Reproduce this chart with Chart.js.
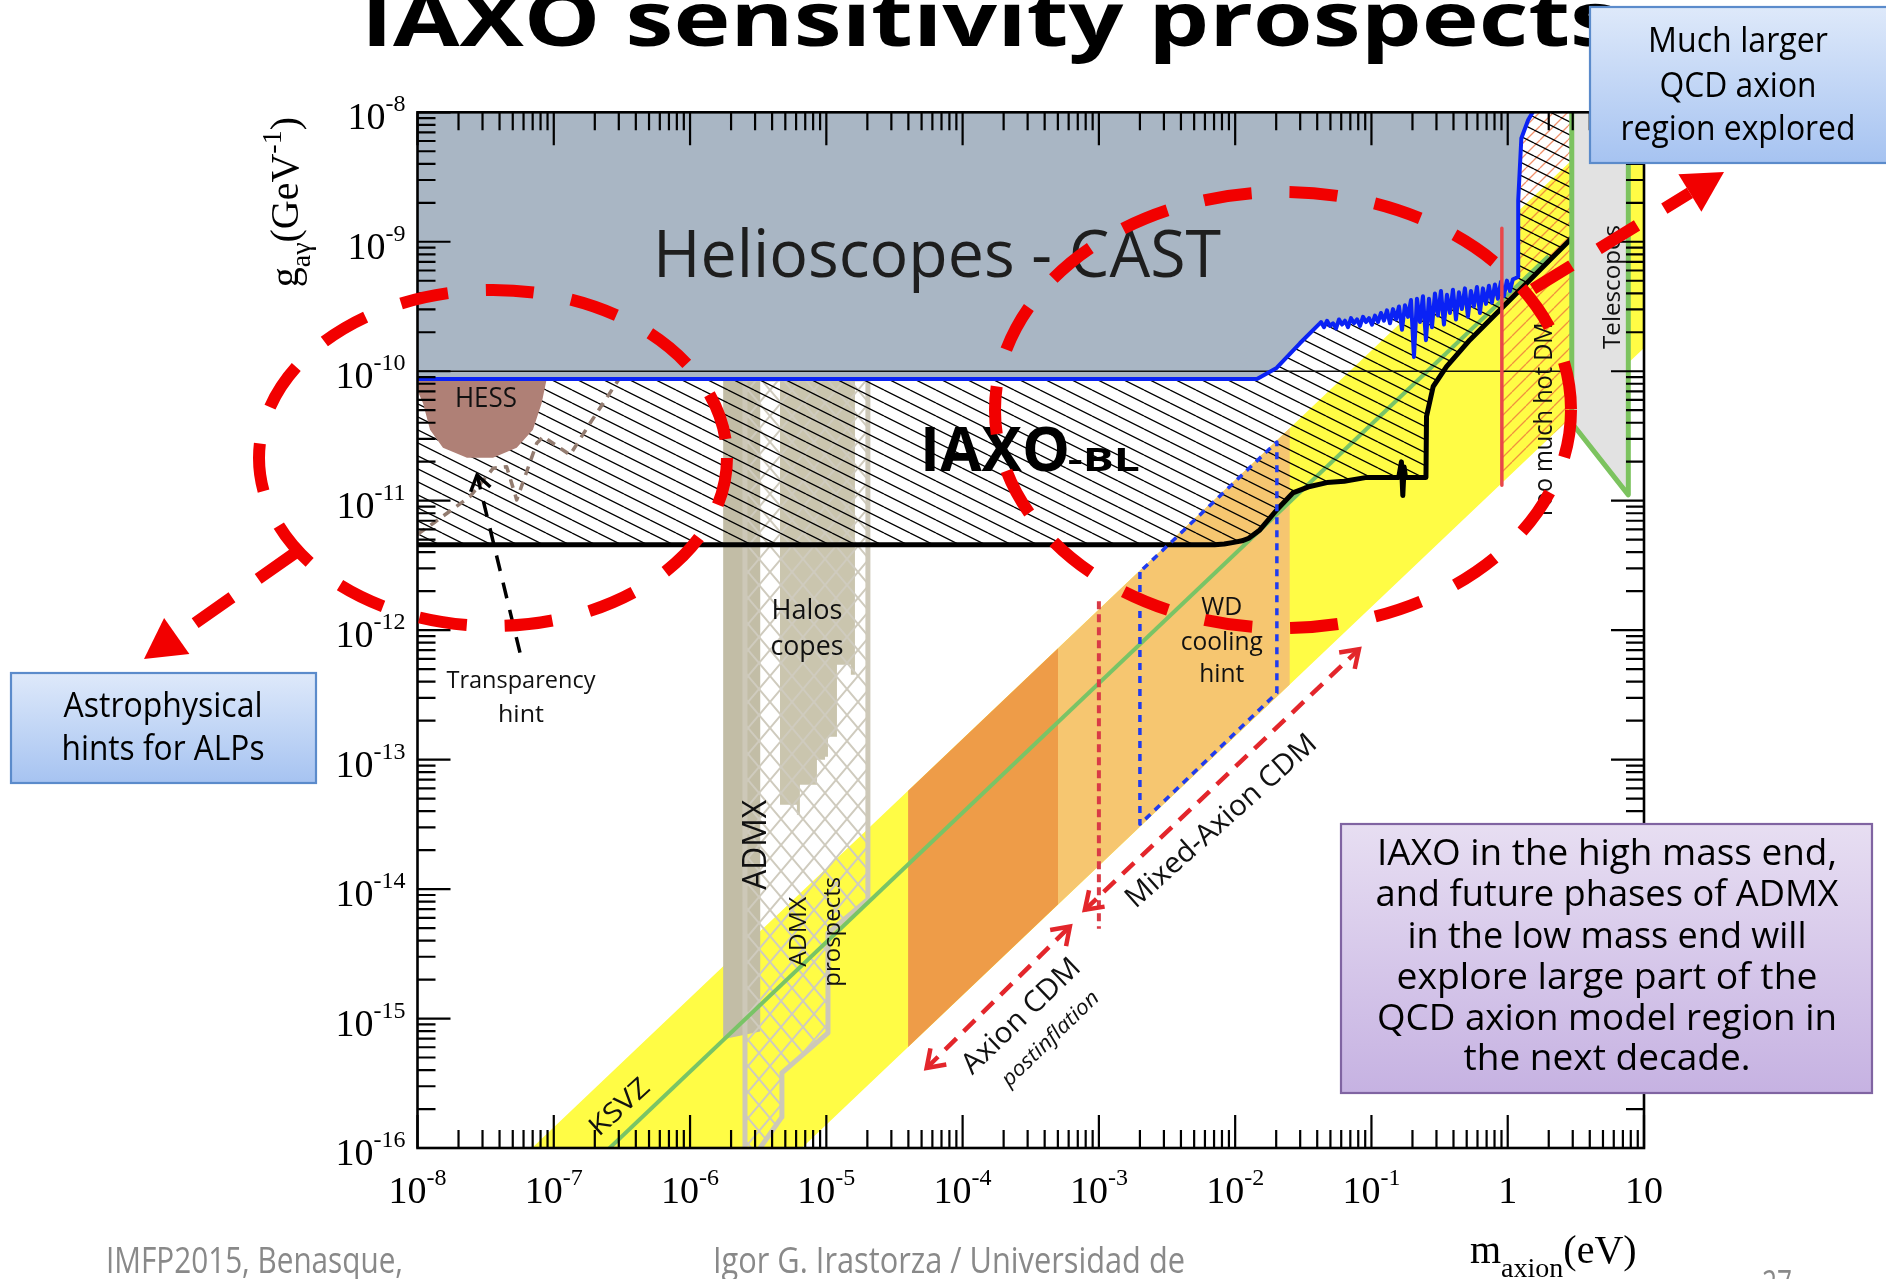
<!DOCTYPE html>
<html>
<head>
<meta charset="utf-8">
<title>IAXO sensitivity prospects</title>
<script src="https://cdn.jsdelivr.net/npm/chart.js@4.4.1/dist/chart.umd.min.js"></script>
<style>
html, body { margin: 0; padding: 0; background: #fff; overflow: hidden; }
canvas { display: block; }
</style>
</head>
<body>
<canvas id="c" width="1886" height="1279"></canvas>
<script>
// All curves and regions below are [log10(m_axion / eV), log10(g_ag / GeV^-1)] pairs.

// Helioscope (CAST) exclusion boundary, left to right, ending at the top of the frame
const castLimit = [
  [-8.1, -10.06], [-1.84, -10.06], [-1.696, -9.975], [-1.525, -9.784], [-1.379, -9.63],
  [-1.370, -9.62], [-1.348, -9.66], [-1.326, -9.61], [-1.304, -9.65], [-1.282, -9.63],
  [-1.260, -9.67], [-1.238, -9.60], [-1.216, -9.64], [-1.194, -9.61], [-1.172, -9.66],
  [-1.150, -9.59], [-1.128, -9.63], [-1.106, -9.60], [-1.084, -9.65], [-1.062, -9.58],
  [-1.040, -9.62], [-1.018, -9.59], [-0.996, -9.64], [-0.974, -9.57], [-0.952, -9.62],
  [-0.930, -9.55], [-0.908, -9.61], [-0.886, -9.53], [-0.864, -9.63], [-0.842, -9.52],
  [-0.820, -9.60], [-0.798, -9.50], [-0.776, -9.68], [-0.754, -9.49],
  [-0.732, -9.58], [-0.710, -9.45], [-0.688, -9.89], [-0.666, -9.44], [-0.644, -9.62],
  [-0.622, -9.42], [-0.600, -9.76], [-0.578, -9.44], [-0.556, -9.66],
  [-0.534, -9.40], [-0.512, -9.57], [-0.490, -9.38], [-0.468, -9.64], [-0.446, -9.41],
  [-0.424, -9.55], [-0.402, -9.37], [-0.380, -9.60], [-0.358, -9.39], [-0.336, -9.52],
  [-0.314, -9.36], [-0.292, -9.58], [-0.270, -9.38], [-0.248, -9.50], [-0.226, -9.35],
  [-0.204, -9.55], [-0.182, -9.36], [-0.160, -9.48], [-0.138, -9.34],
  [-0.116, -9.47], [-0.094, -9.33], [-0.072, -9.44], [-0.050, -9.31], [-0.028, -9.42],
  [-0.006, -9.30], [0.016, -9.38], [0.038, -9.29], [0.060, -9.28], [0.077, -9.269],
  [0.077, -8.68], [0.100, -8.2], [0.15, -8.06], [0.21, -7.95]
];

// IAXO baseline sensitivity curve
const iaxoBL = [
  [-8.1, -11.34], [-2.15, -11.34], [-2.08, -11.335], [-2.0, -11.32], [-1.95, -11.31],
  [-1.90, -11.29], [-1.819, -11.226], [-1.694, -11.07], [-1.577, -10.94], [-1.452, -10.89],
  [-1.327, -10.86], [-1.20, -10.85], [-1.034, -10.82], [-0.80, -10.82], [-0.78, -10.70],
  [-0.77, -10.96], [-0.76, -10.74], [-0.75, -10.82], [-0.600, -10.82], [-0.596, -10.35],
  [-0.547, -10.118], [-0.449, -9.964], [-0.278, -9.758], [0.089, -9.372], [0.456, -8.986],
  [0.47, -8.97]
];

// QCD axion model band (upper edge, then lower edge)
const axionBand = [[-8, -16.84], [1, -7.84], [1, -9.82], [-8, -18.82]];
// KSVZ model line
const ksvzLine = [[-6.7, -16.11], [0.3, -9.11]];
// Axion CDM (post-inflation) mass windows
const cdmCore = [[-4.40, -13.24], [-3.30, -12.14], [-3.30, -14.12], [-4.40, -15.22]];
const cdmMixed = [[-3.30, -12.14], [-1.60, -10.44], [-1.60, -12.42], [-3.30, -14.12]];
// White-dwarf cooling hint
const wdHint = [[-2.699, -11.55], [-2.699, -13.50], [-1.694, -12.485], [-1.694, -10.546], [-2.699, -11.55]];
// Red dotted marker at 1 meV
const meVMarker = [[-3.0, -11.776], [-3.0, -14.306]];
// Hot dark matter bound
const hotDmLine = [[-0.043, -8.895], [-0.043, -10.88]];
const hotDmArea = [[-0.043, -7.9], [0.47, -7.9], [0.47, -10.35], [-0.043, -10.86]];
// Telescope searches
const telescopeArea = [[0.47, -7.9], [0.885, -7.9], [0.885, -10.955], [0.47, -10.40]];
const telescopeEdge = [[0.47, -7.9], [0.47, -10.40], [0.885, -10.955], [0.885, -7.9]];
// Haloscopes: ADMX exclusion, other haloscopes, ADMX prospects
const admxExcl = [[-5.757, -10.06], [-5.485, -10.06], [-5.485, -15.10], [-5.757, -15.16]];
const halosExcl = [
  [-5.340, -10.06], [-4.790, -10.06], [-4.790, -12.345], [-4.820, -12.345], [-4.820, -12.268],
  [-4.922, -12.268], [-4.922, -12.824], [-4.988, -12.824], [-4.988, -12.978], [-5.010, -12.978],
  [-5.010, -13.001], [-5.069, -13.001], [-5.069, -13.194], [-5.194, -13.194], [-5.194, -13.426],
  [-5.216, -13.426], [-5.216, -13.349], [-5.340, -13.349]
];
const admxProspects = [
  [-5.597, -10.06], [-4.695, -10.06], [-4.695, -14.08], [-4.988, -14.34], [-4.988, -15.11],
  [-5.326, -15.42], [-5.326, -15.76], [-5.50, -16.02], [-5.597, -16.02]
];
// HESS excluded region
const hessExcl = [
  [-8.0, -10.06], [-7.052, -10.06], [-7.089, -10.247], [-7.153, -10.453], [-7.272, -10.592],
  [-7.446, -10.669], [-7.637, -10.669], [-7.813, -10.592], [-7.908, -10.453], [-7.960, -10.245],
  [-8.0, -10.15]
];
// Transparency hint contour
const transparencyHint = [
  [-8.0, -11.26], [-7.884, -11.174], [-7.615, -10.968], [-7.444, -10.749], [-7.346, -10.737],
  [-7.272, -10.994], [-7.125, -10.556], [-7.077, -10.505], [-6.881, -10.646], [-6.734, -10.402],
  [-6.502, -10.029]
];
// Horizontal guide at g = 1e-10
const guide1e10 = [[-8.0, -10.0], [0.47, -10.0]];

// Axis decades and tick label text
const xDecades = [-8, -7, -6, -5, -4, -3, -2, -1, 0, 1];
const xTickBase = ['10', '10', '10', '10', '10', '10', '10', '10', '1', '10'];
const xTickExp = ['-8', '-7', '-6', '-5', '-4', '-3', '-2', '-1', '', ''];
const yDecades = [-16, -15, -14, -13, -12, -11, -10, -9, -8];
const yTickExp = ['-16', '-15', '-14', '-13', '-12', '-11', '-10', '-9', '-8'];

// ---------------------------------------------------------------------------
const pts = arr => arr.map(([a, b]) => ({ x: Math.pow(10, a), y: Math.pow(10, b) }));
const closed = arr => arr.concat([arr[0]]);

const canvas = document.getElementById('c');
const ctx0 = canvas.getContext('2d');

function stripes(w, h, color, lw, down) {
  const c = document.createElement('canvas');
  c.width = w; c.height = h;
  const g = c.getContext('2d');
  g.strokeStyle = color; g.lineWidth = lw;
  g.beginPath();
  for (const k of [-1, 0, 1]) {
    if (down) { g.moveTo(0, k * h); g.lineTo(w, (k + 1) * h); }
    else { g.moveTo(0, (k + 1) * h); g.lineTo(w, k * h); }
  }
  g.stroke();
  return ctx0.createPattern(c, 'repeat');
}
function crossHatch(w, h, color, lw) {
  const c = document.createElement('canvas');
  c.width = w; c.height = h;
  const g = c.getContext('2d');
  g.strokeStyle = color; g.lineWidth = lw;
  g.beginPath();
  g.moveTo(0, 0); g.lineTo(w, h);
  g.moveTo(w, 0); g.lineTo(0, h);
  g.stroke();
  return ctx0.createPattern(c, 'repeat');
}

const iaxoHatch = stripes(26, 13, '#000', 1.3, true);
const hotDmHatch = stripes(14, 14, 'rgba(236,110,60,0.75)', 1.3, false);
const prospectHatch = crossHatch(22, 26, '#CFCBBE', 2);

function region(data, color, order) {
  return { data: pts(data), fill: 'shape', backgroundColor: color, borderColor: 'rgba(0,0,0,0)',
           borderWidth: 0, pointRadius: 0, order, clip: 0, tension: 0 };
}
function curve(data, color, width, order, dash) {
  return { data: pts(data), fill: false, borderColor: color, borderWidth: width, borderDash: dash || [],
           pointRadius: 0, order, clip: 0, tension: 0, borderJoinStyle: 'round', borderCapStyle: 'butt' };
}

const iaxoHatchArea = iaxoBL.concat([[0.47, -7.9]], castLimit.slice().reverse());
const castArea = castLimit.concat([[-8.1, -7.9]]);

const datasets = [
  region(axionBand, '#FFFC45', 100),
  region(cdmCore, '#EE9C48', 99),
  region(cdmMixed, '#F6C670', 98),
  region(hotDmArea, hotDmHatch, 97),
  region(telescopeArea, '#E2E2E2', 96),
  region(admxExcl, '#C2BDA6', 95),
  region(halosExcl, '#CAC5AE', 94),
  region(admxProspects, prospectHatch, 93),
  curve(closed(admxProspects), '#CDC8B8', 5, 92),
  curve(ksvzLine, '#79C466', 4, 91),
  region(iaxoHatchArea, iaxoHatch, 90),
  region(hessExcl, '#AF8076', 89),
  curve(transparencyHint, '#937C70', 3.5, 88, [9, 7]),
  region(castArea, '#A9B6C4', 87),
  curve(guide1e10, '#111', 1.5, 86),
  curve(castLimit, '#0A22F5', 4, 85),
  curve(iaxoBL, '#000', 5, 84),
  curve(hotDmLine, '#E8474A', 3.5, 83),
  curve(meVMarker, '#D93A46', 4, 82, [8, 5]),
  curve(wdHint, '#1F3BEF', 3.5, 81, [7, 6]),
  curve(telescopeEdge, '#7CC35F', 5, 80)
];

// ---------------------------------------------------------------------------
const SERIF = '"Liberation Serif", "Times New Roman", serif';
const SANS = '"Open Sans", "Noto Sans", sans-serif';

function txt(ctx, s, x, y, o) {
  ctx.save();
  ctx.font = o.font;
  ctx.fillStyle = o.color || '#111';
  ctx.textBaseline = o.baseline || 'alphabetic';
  ctx.textAlign = o.align || 'left';
  const w = ctx.measureText(s).width;
  ctx.translate(x, y);
  if (o.angle) ctx.rotate(o.angle * Math.PI / 180);
  if (o.w) ctx.scale(o.w / w, 1);
  ctx.fillText(s, 0, 0);
  ctx.restore();
}
function rich(ctx, parts, x, y, o) {
  ctx.save();
  const widths = parts.map(p => { ctx.font = p.font; return ctx.measureText(p.t).width; });
  const total = widths.reduce((a, b) => a + b, 0);
  ctx.translate(x, y);
  if (o.angle) ctx.rotate(o.angle * Math.PI / 180);
  let cx = o.align === 'center' ? -total / 2 : (o.align === 'right' ? -total : 0);
  ctx.fillStyle = o.color || '#000';
  ctx.textBaseline = 'alphabetic';
  ctx.textAlign = 'left';
  parts.forEach((p, i) => { ctx.font = p.font; ctx.fillText(p.t, cx, p.dy || 0); cx += widths[i]; });
  ctx.restore();
}
function openHead(ctx, x0, y0, x1, y1, len, ang) {
  const a = Math.atan2(y1 - y0, x1 - x0);
  ctx.beginPath();
  ctx.moveTo(x1 - len * Math.cos(a - ang), y1 - len * Math.sin(a - ang));
  ctx.lineTo(x1, y1);
  ctx.lineTo(x1 - len * Math.cos(a + ang), y1 - len * Math.sin(a + ang));
  ctx.stroke();
}

// labels inside the plot, anchored in data space
const plotText = [
  { t: 'Helioscopes - CAST', at: [-6.272, -9.272], font: `400 66px ${SANS}`, w: 568, color: '#1e1e1e' },
  { t: 'IAXO', at: [-4.313, -10.770], font: `700 60px ${SANS}`, w: 150, color: '#000' },
  { t: '-BL', at: [-3.228, -10.770], font: `700 33px ${SANS}`, w: 72, color: '#000' },
  { t: 'HESS', at: [-7.725, -10.274], font: `27px ${SANS}`, w: 62 },
  { t: 'Halos', at: [-5.142, -11.913], font: `27px ${SANS}`, w: 71, align: 'center' },
  { t: 'copes', at: [-5.142, -12.19], font: `27px ${SANS}`, w: 73, align: 'center' },
  { t: 'Transparency', at: [-7.241, -12.445], font: `24px ${SANS}`, w: 149, align: 'center' },
  { t: 'hint', at: [-7.241, -12.708], font: `24px ${SANS}`, w: 46, align: 'center' },
  { t: 'WD', at: [-2.098, -11.880], font: `26px ${SANS}`, w: 41, align: 'center' },
  { t: 'cooling', at: [-2.098, -12.151], font: `26px ${SANS}`, w: 82, align: 'center' },
  { t: 'hint', at: [-2.098, -12.398], font: `26px ${SANS}`, w: 45, align: 'center' },
  { t: 'ADMX', at: [-5.506, -13.658], font: `32px ${SANS}`, w: 90, align: 'center', baseline: 'middle', angle: -90 },
  { t: 'ADMX', at: [-5.201, -14.330], font: `24px ${SANS}`, w: 70, align: 'center', baseline: 'middle', angle: -90 },
  { t: 'prospects', at: [-4.952, -14.330], font: `24px ${SANS}`, w: 110, align: 'center', baseline: 'middle', angle: -90 },
  { t: 'KSVZ', at: [-6.514, -15.689], font: `27px ${SANS}`, w: 71, align: 'center', baseline: 'middle', angle: -42 },
  { t: 'Axion CDM', at: [-3.567, -14.984], font: `29px ${SANS}`, w: 153, align: 'center', baseline: 'middle', angle: -44 },
  { t: 'postinflation', at: [-3.354, -15.158], font: `italic 21px ${SANS}`, w: 127, align: 'center', baseline: 'middle', angle: -44 },
  { t: 'Mixed-Axion CDM', at: [-2.100, -13.478], font: `29px ${SANS}`, w: 245, align: 'center', baseline: 'middle', angle: -41.7 },
  { t: 'Too much hot DM', at: [0.272, -10.384], font: `25px ${SANS}`, w: 197, align: 'center', baseline: 'middle', angle: -90 },
  { t: 'Telescopes', at: [0.771, -9.349], font: `24px ${SANS}`, w: 124, align: 'center', baseline: 'middle', angle: -90 }
];

// dashed double arrows (data space)
const cdmArrows = [
  [[-4.264, -15.382], [-3.213, -14.289]],
  [[-3.103, -14.160], [-1.092, -12.148]]
];
const transparencyArrow = [[-7.248, -12.174], [-7.563, -10.801]];

const plotDecor = {
  id: 'plotDecor',
  afterDatasetsDraw(chart) {
    const { ctx, chartArea: a, scales: { x, y } } = chart;
    const P = (lm, lg) => [x.getPixelForValue(Math.pow(10, lm)), y.getPixelForValue(Math.pow(10, lg))];
    ctx.save();

    // frame and inward ticks on all four sides
    ctx.strokeStyle = '#000';
    ctx.lineWidth = 2.6;
    ctx.strokeRect(a.left, a.top, a.right - a.left, a.bottom - a.top);
    ctx.lineWidth = 2.2;
    const MAJ = 33, MIN = 18;
    ctx.beginPath();
    xDecades.forEach(d => {
      for (let k = 1; k <= 9; k++) {
        if (d === 1 && k > 1) break;
        const px = x.getPixelForValue(k * Math.pow(10, d));
        const L = k === 1 ? MAJ : MIN;
        ctx.moveTo(px, a.bottom); ctx.lineTo(px, a.bottom - L);
        ctx.moveTo(px, a.top); ctx.lineTo(px, a.top + L);
      }
    });
    yDecades.forEach(d => {
      for (let k = 1; k <= 9; k++) {
        if (d === -8 && k > 1) break;
        const py = y.getPixelForValue(k * Math.pow(10, d));
        const L = k === 1 ? MAJ : MIN;
        ctx.moveTo(a.left, py); ctx.lineTo(a.left + L, py);
        ctx.moveTo(a.right, py); ctx.lineTo(a.right - L, py);
      }
    });
    ctx.stroke();

    // tick labels
    xDecades.forEach((d, i) => {
      const px = x.getPixelForValue(Math.pow(10, d));
      const parts = [{ t: xTickBase[i], font: `38px ${SERIF}` }];
      if (xTickExp[i]) parts.push({ t: xTickExp[i], font: `24px ${SERIF}`, dy: -18 });
      rich(ctx, parts, px, a.bottom + 55, { align: 'center' });
    });
    yDecades.forEach((d, i) => {
      const py = y.getPixelForValue(Math.pow(10, d));
      rich(ctx, [{ t: '10', font: `38px ${SERIF}` }, { t: yTickExp[i], font: `24px ${SERIF}`, dy: -18 }],
           a.left - 12, py + 17, { align: 'right' });
    });

    // axis titles
    rich(ctx, [
      { t: 'g', font: `40px ${SERIF}` },
      { t: 'aγ', font: `28px ${SERIF}`, dy: 12 },
      { t: '(GeV', font: `40px ${SERIF}` },
      { t: '-1', font: `28px ${SERIF}`, dy: -17 },
      { t: ')', font: `40px ${SERIF}` }
    ], a.left - 120, a.top + 175, { angle: -90 });
    rich(ctx, [
      { t: 'm', font: `40px ${SERIF}` },
      { t: 'axion', font: `28px ${SERIF}`, dy: 14 },
      { t: '(eV)', font: `40px ${SERIF}` }
    ], a.right - 174, a.bottom + 115, {});

    // labels
    plotText.forEach(l => {
      const [px, py] = P(l.at[0], l.at[1]);
      txt(ctx, l.t, px, py, l);
    });

    // dashed double arrows
    ctx.strokeStyle = '#E3262B';
    ctx.lineWidth = 4.5;
    cdmArrows.forEach(([p0, p1]) => {
      const [x0, y0] = P(p0[0], p0[1]);
      const [x1, y1] = P(p1[0], p1[1]);
      ctx.setLineDash([16, 10]);
      ctx.beginPath(); ctx.moveTo(x0, y0); ctx.lineTo(x1, y1); ctx.stroke();
      ctx.setLineDash([]);
      openHead(ctx, x0, y0, x1, y1, 20, 0.6);
      openHead(ctx, x1, y1, x0, y0, 20, 0.6);
    });
    {
      const [x0, y0] = P(transparencyArrow[0][0], transparencyArrow[0][1]);
      const [x1, y1] = P(transparencyArrow[1][0], transparencyArrow[1][1]);
      ctx.strokeStyle = '#000';
      ctx.lineWidth = 3.5;
      ctx.setLineDash([16, 12]);
      ctx.beginPath(); ctx.moveTo(x0, y0); ctx.lineTo(x1, y1); ctx.stroke();
      ctx.setLineDash([]);
      openHead(ctx, x0, y0, x1, y1, 18, 0.6);
    }
    ctx.restore();
  }
};

// slide-level annotations around the figure
const RED = '#F20000';
function bigArrow(ctx, x0, y0, x1, y1) {
  const a = Math.atan2(y1 - y0, x1 - x0), L = 40, W = 22;
  const bx = x1 - L * Math.cos(a), by = y1 - L * Math.sin(a);
  ctx.strokeStyle = RED; ctx.fillStyle = RED;
  ctx.lineWidth = 12;
  ctx.setLineDash([45, 32]);
  ctx.beginPath(); ctx.moveTo(x0, y0); ctx.lineTo(bx, by); ctx.stroke();
  ctx.setLineDash([]);
  ctx.beginPath();
  ctx.moveTo(x1, y1);
  ctx.lineTo(bx - W * Math.sin(a), by + W * Math.cos(a));
  ctx.lineTo(bx + W * Math.sin(a), by - W * Math.cos(a));
  ctx.closePath(); ctx.fill();
}
function box(ctx, x, y, w, h, top, bottom, border) {
  const g = ctx.createLinearGradient(0, y, 0, y + h);
  g.addColorStop(0, top); g.addColorStop(1, bottom);
  ctx.fillStyle = g;
  ctx.fillRect(x, y, w, h);
  ctx.strokeStyle = border; ctx.lineWidth = 2.2;
  ctx.strokeRect(x, y, w, h);
}

const slideOverlay = {
  id: 'slideOverlay',
  afterDraw(chart) {
    const ctx = chart.ctx;
    ctx.save();

    // title
    txt(ctx, 'IAXO sensitivity prospects', 361, 46, { font: `700 75px ${SANS}`, w: 1257, color: '#000' });

    // highlight ellipses
    ctx.strokeStyle = RED;
    ctx.lineWidth = 12;
    ctx.setLineDash([48, 38]);
    ctx.beginPath(); ctx.ellipse(493, 458, 234, 168, 0, 0, Math.PI * 2); ctx.stroke();
    ctx.beginPath(); ctx.ellipse(1283, 410, 288, 218, 0, 0, Math.PI * 2); ctx.stroke();
    ctx.setLineDash([]);

    bigArrow(ctx, 295, 553, 144, 659);
    bigArrow(ctx, 1533, 289, 1724, 172);

    // callout boxes
    box(ctx, 1590, 7, 310, 156, '#DEE9FA', '#A6C3F1', '#5B8BCB');
    txt(ctx, 'Much larger', 1738, 52, { font: `35px ${SANS}`, w: 180, align: 'center', color: '#000' });
    txt(ctx, 'QCD axion', 1738, 97, { font: `35px ${SANS}`, w: 157, align: 'center', color: '#000' });
    txt(ctx, 'region explored', 1738, 140, { font: `35px ${SANS}`, w: 235, align: 'center', color: '#000' });

    box(ctx, 11, 673, 305, 110, '#DEE9FA', '#A6C3F1', '#5B8BCB');
    txt(ctx, 'Astrophysical', 163, 717, { font: `34px ${SANS}`, w: 199, align: 'center', color: '#000' });
    txt(ctx, 'hints for ALPs', 163, 760, { font: `34px ${SANS}`, w: 203, align: 'center', color: '#000' });

    box(ctx, 1341, 824, 531, 269, '#E7DEF2', '#C6B2E2', '#8064A2');
    const lines = [
      ['IAXO in the high mass end,', 865, 460],
      ['and future phases of ADMX', 906, 463],
      ['in the low mass end will', 948, 399],
      ['explore large part of the', 989, 421],
      ['QCD axion model region in', 1030, 460],
      ['the next decade.', 1070, 287]
    ];
    lines.forEach(([s, yb, w]) => txt(ctx, s, 1607, yb, { font: `37px ${SANS}`, w, align: 'center', color: '#000' }));

    // footer
    txt(ctx, 'IMFP2015, Benasque,', 106, 1273, { font: `36px ${SANS}`, w: 297, color: '#898989' });
    txt(ctx, 'Igor G. Irastorza / Universidad de', 713, 1273, { font: `36px ${SANS}`, w: 472, color: '#898989' });
    txt(ctx, '27', 1762, 1296, { font: `36px ${SANS}`, w: 30, color: '#898989' });

    ctx.restore();
  }
};

new Chart(canvas, {
  type: 'line',
  data: { datasets },
  options: {
    responsive: false,
    animation: false,
    devicePixelRatio: 1,
    events: [],
    layout: { padding: { left: 417.5, top: 112.3, right: 242, bottom: 131 } },
    scales: {
      x: { type: 'logarithmic', min: 1e-8, max: 10, display: false },
      y: { type: 'logarithmic', min: 1e-16, max: 1e-8, display: false }
    },
    plugins: { legend: { display: false }, tooltip: { enabled: false } }
  },
  plugins: [plotDecor, slideOverlay]
});
</script>
</body>
</html>
